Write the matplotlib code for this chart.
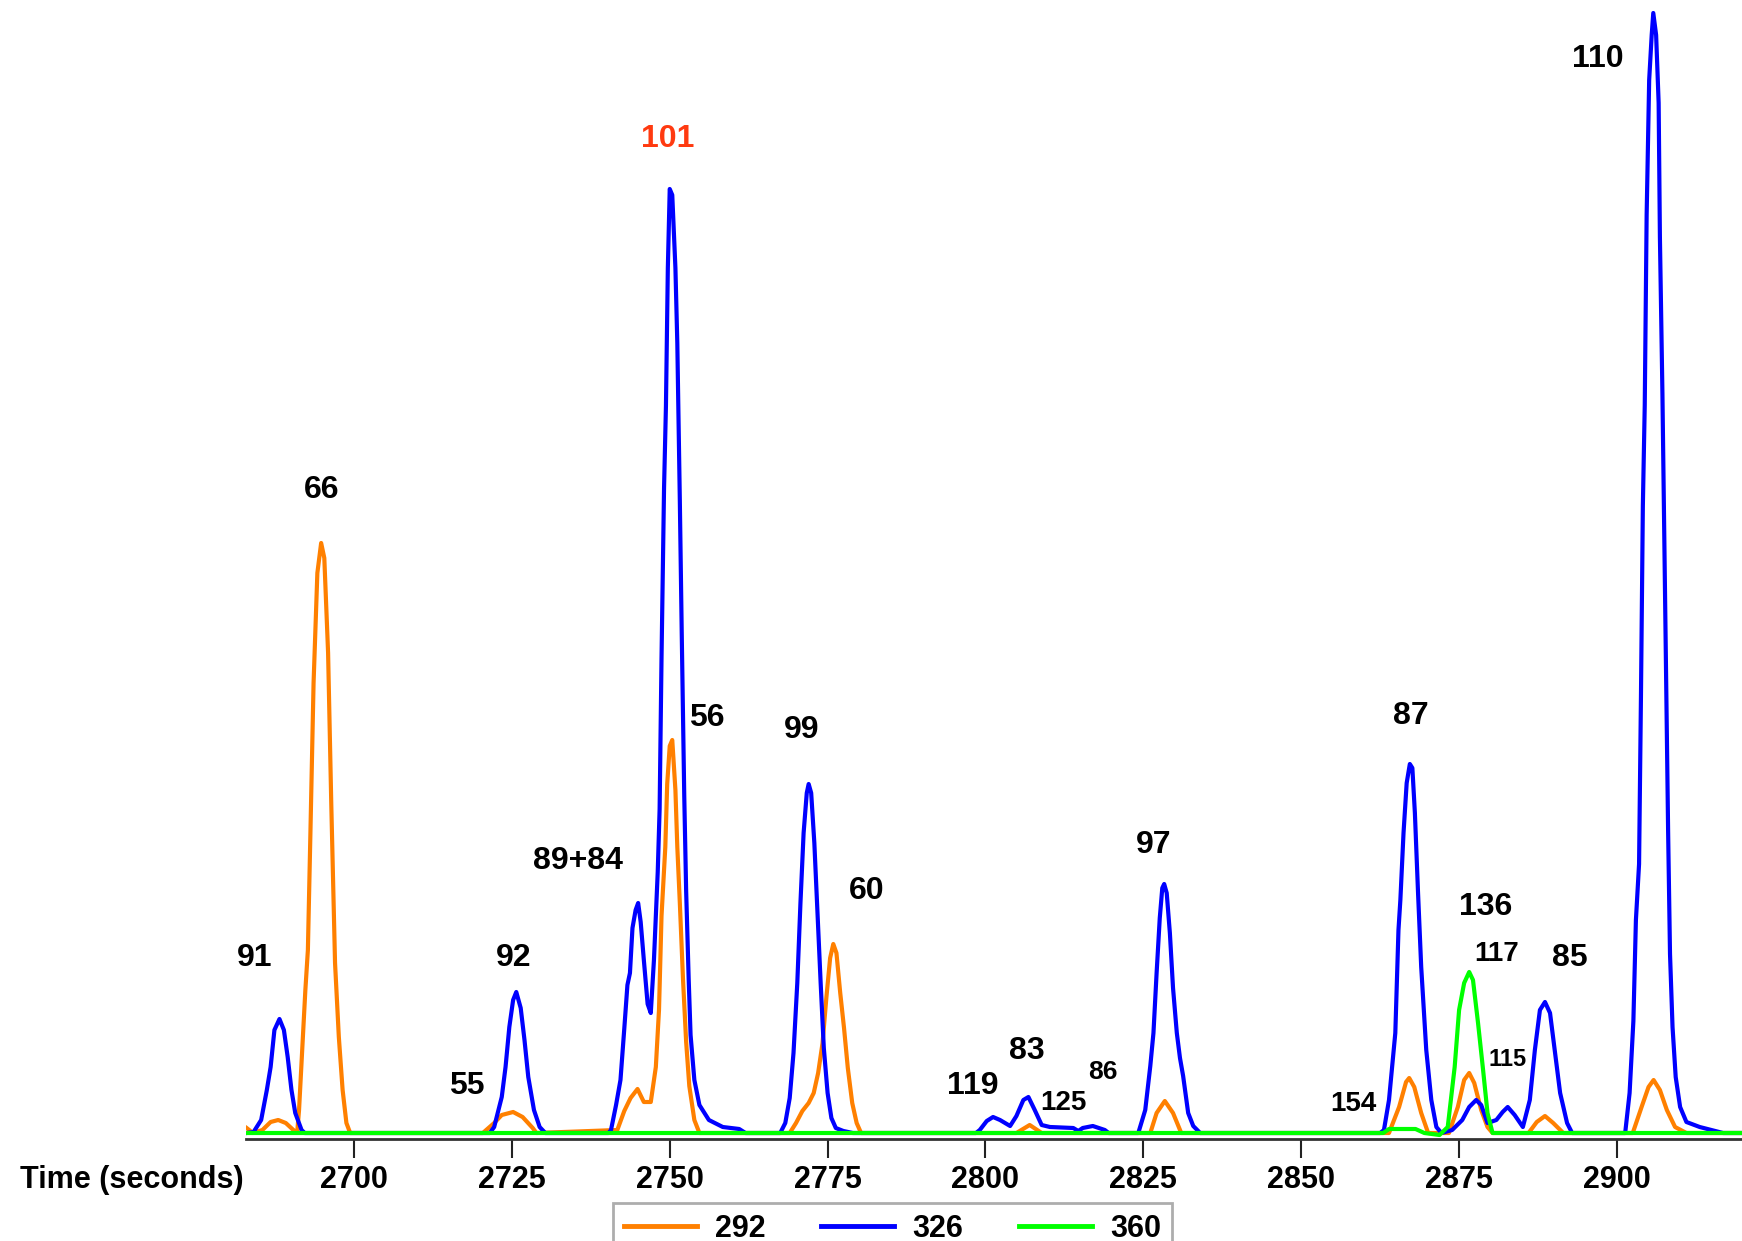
import matplotlib
matplotlib.use("Agg")
import matplotlib.pyplot as plt
from matplotlib import font_manager

# Chromatogram traces (time in s, signal in arbitrary units)
t_292 = [2683.0, 2684.0, 2685.5, 2686.8, 2688.0, 2689.2, 2690.4, 2691.0, 2691.3, 2691.8, 2692.3,
         2692.7, 2693.1, 2693.6, 2694.2, 2694.8, 2695.3, 2695.9, 2696.4, 2697.0, 2697.6, 2698.2,
         2698.8, 2699.4, 2720.4, 2722.2, 2723.4, 2725.2, 2726.7, 2728.3, 2728.9, 2741.7, 2742.8,
         2743.8, 2744.9, 2745.9, 2747.0, 2747.8, 2748.3, 2748.7, 2749.3, 2749.6, 2750.0, 2750.4,
         2750.9, 2751.2, 2751.6, 2752.1, 2752.6, 2753.1, 2753.9, 2754.7, 2769.0, 2770.0, 2771.0,
         2772.0, 2772.8, 2773.5, 2774.2, 2774.8, 2775.4, 2775.9, 2776.4, 2777.0, 2777.6, 2778.2,
         2778.9, 2779.6, 2780.3, 2804.9, 2807.0, 2808.9, 2826.1, 2827.1, 2828.4, 2829.7, 2831.0,
         2863.9, 2865.5, 2866.6, 2867.1, 2867.9, 2869.0, 2870.1, 2873.4, 2874.8, 2875.8, 2876.6,
         2877.4, 2878.5, 2879.5, 2880.3, 2886.0, 2887.3, 2888.6, 2889.9, 2891.5, 2902.5, 2903.9,
         2905.0, 2905.8, 2906.8, 2907.9, 2909.2, 2911.0, 2920.0]
y_292 = [5, 0, 3, 11, 13, 10, 3, 0, 23, 83, 143,
         183, 300, 450, 560, 590, 575, 480, 330, 170, 96, 43,
         10, 0, 0, 10, 18, 21, 16, 5, 0, 3, 22,
         35, 44, 31, 31, 66, 123, 217, 286, 349, 387, 393,
         343, 286, 230, 154, 91, 47, 13, 0, 0, 10, 22,
         30, 40, 60, 90, 135, 175, 189, 180, 140, 105, 65,
         30, 10, 0, 0, 8, 0, 0, 20, 32, 20, 0,
         0, 26, 51, 55, 46, 20, 0, 0, 26, 53, 60,
         50, 23, 6, 0, 0, 11, 17, 10, 0, 0, 26,
         46, 53, 43, 23, 6, 0, 0]

t_326 = [2683.0, 2684.1, 2685.3, 2686.2, 2686.8, 2687.4, 2688.2, 2688.9, 2689.5, 2690.1, 2690.7,
         2691.7, 2692.2, 2721.5, 2722.2, 2723.4, 2724.0, 2724.6, 2725.2, 2725.7, 2726.4, 2727.0,
         2727.6, 2728.5, 2729.4, 2730.3, 2740.3, 2740.7, 2741.5, 2742.2, 2742.8, 2743.3, 2743.7,
         2744.1, 2744.6, 2745.0, 2745.4, 2745.9, 2746.5, 2747.0, 2747.5, 2748.1, 2748.4, 2748.7,
         2749.1, 2749.4, 2749.7, 2750.0, 2750.4, 2750.9, 2751.2, 2751.6, 2751.9, 2752.3, 2752.6,
         2753.0, 2753.3, 2753.9, 2754.7, 2756.2, 2758.4, 2761.0, 2762.0, 2767.5, 2768.3, 2769.0,
         2769.6, 2770.2, 2770.7, 2771.2, 2771.7, 2772.0, 2772.4, 2772.9, 2773.4, 2773.9, 2774.4,
         2775.0, 2775.6, 2776.3, 2777.5, 2779.0, 2798.5, 2799.1, 2800.2, 2801.2, 2802.3, 2803.9,
         2804.9, 2806.0, 2806.8, 2807.8, 2808.9, 2810.2, 2813.9, 2814.7, 2815.4, 2817.0, 2818.9,
         2819.5, 2824.2, 2825.3, 2826.1, 2826.6, 2827.1, 2827.6, 2828.0, 2828.3, 2828.7, 2829.2,
         2829.7, 2830.3, 2830.8, 2831.3, 2832.1, 2832.9, 2834.0, 2862.5, 2863.1, 2863.9, 2864.9,
         2865.4, 2865.7, 2866.2, 2866.7, 2867.2, 2867.6, 2868.0, 2868.5, 2869.0, 2869.8, 2870.6,
         2871.4, 2872.2, 2873.9, 2875.5, 2876.6, 2877.7, 2878.5, 2879.5, 2880.9, 2881.9, 2882.7,
         2883.8, 2885.1, 2886.2, 2887.0, 2887.8, 2888.6, 2889.4, 2890.2, 2891.0, 2892.1, 2892.9,
         2901.3, 2902.0, 2902.6, 2903.0, 2903.5, 2903.8, 2904.1, 2904.4, 2904.7, 2905.1, 2905.5,
         2905.75, 2906.2, 2906.6, 2906.8, 2907.2, 2907.5, 2907.9, 2908.1, 2908.4, 2908.8, 2909.3,
         2910.0, 2911.0, 2913.1, 2916.8, 2920.0]
y_326 = [0, 1, 13, 43, 66, 103, 114, 103, 76, 43, 20,
         3, 0, 0, 6, 36, 66, 106, 133, 141, 125, 93,
         56, 23, 6, 0, 0, 3, 28, 53, 104, 148, 160,
         205, 223, 230, 211, 173, 129, 120, 173, 261, 324, 475,
         645, 727, 865, 944, 938, 865, 790, 632, 500, 337, 242,
         154, 98, 53, 28, 13, 6, 4, 0, 0, 10, 35,
         80, 150, 230, 300, 340, 349, 340, 290, 220, 150, 85,
         40, 15, 5, 2, 0, 0, 3, 12, 16, 13, 7,
         17, 33, 36, 23, 8, 6, 5, 2, 5, 7, 3,
         0, 0, 23, 67, 100, 160, 215, 245, 249, 240, 200,
         145, 100, 75, 57, 20, 7, 0, 0, 3, 33, 100,
         203, 233, 300, 350, 369, 365, 320, 240, 166, 83, 33,
         6, 0, 3, 13, 26, 33, 28, 10, 13, 21, 26,
         18, 6, 33, 83, 123, 131, 120, 80, 40, 10, 0,
         0, 40, 112, 213, 269, 437, 627, 728, 918, 1053, 1098,
         1120, 1098, 1030, 896, 739, 594, 403, 302, 179, 106, 56,
         26, 11, 6, 0, 0]

t_360 = [2683.0, 2863.0, 2863.9, 2868.1, 2869.5, 2871.9, 2873.2, 2874.3, 2875.0, 2875.8, 2876.6,
         2877.2, 2878.0, 2878.8, 2879.5, 2880.3, 2920.0]
y_360 = [0, 0, 4, 4, 0, -2, 6, 66, 123, 150, 161,
         153, 110, 63, 20, 0, 0]

# peak labels: text, time, height, font size
lbl_text = ["91", "66", "55", "92", "89+84", "101", "56", "99", "60", "119", "83", "125",
            "86", "97", "154", "87", "136", "117", "115", "85", "110"]
lbl_t = [2684.3, 2694.9, 2717.9, 2725.3, 2735.4, 2749.7, 2755.9, 2770.9, 2781.2, 2798.0,
         2806.6, 2812.4, 2818.6, 2826.7, 2858.2, 2867.4, 2879.2, 2881.0, 2882.7, 2892.5, 2897.0]
lbl_y = [175, 643, 47, 175, 272, 994, 415, 403, 242, 47, 82, 30, 61, 288, 29, 417, 226, 179,
         73, 175, 1074]
lbl_size = [23, 23, 23, 23, 23, 23, 23, 23, 23, 23, 23, 20, 19, 23, 20, 23, 23, 20, 17, 23, 23]

ticks = [2700, 2725, 2750, 2775, 2800, 2825, 2850, 2875, 2900]

names = [f.name for f in font_manager.fontManager.ttflist]
if "Liberation Sans Narrow" in names:
    axis_font = "Liberation Sans Narrow"
    axis_size = 27
else:
    axis_font = "Liberation Sans"
    axis_size = 22

fig = plt.figure(figsize=(17.42, 12.41), dpi=100)
ax = fig.add_axes([246 / 1742, (1241 - 1139) / 1241, (1742 - 246) / 1742, 1139 / 1241])

ax.plot(t_292, y_292, color="#ff8000", lw=3.0, label="292")
ax.plot(t_326, y_326, color="#0000ff", lw=3.0, label="326")
ax.plot(t_360, y_360, color="#00ff00", lw=3.0, label="360")

for txt, tx, ty, fs in zip(lbl_text, lbl_t, lbl_y, lbl_size):
    col = "#ff3a10" if txt == "101" else "black"
    ax.text(tx, ty, txt, ha="center", va="center", fontsize=fs, fontweight="bold",
            family="Liberation Sans", color=col)

ax.set_xlim(2682.9, 2919.8)
ax.set_ylim(-6, 1133)
ax.set_yticks([])
ax.set_xticks(ticks)
ax.set_xticklabels([str(t) for t in ticks], family=axis_font, fontsize=axis_size,
                   fontweight="bold")
ax.tick_params(axis="x", length=14, width=1.5, color="#222222", pad=5)
for s in ["top", "left", "right"]:
    ax.spines[s].set_visible(False)
ax.spines["bottom"].set_color("#333333")
ax.spines["bottom"].set_linewidth(2)

fig.text(244 / 1742, 1 - 1180 / 1241, "Time (seconds)", ha="right", va="center",
         family=axis_font, fontsize=axis_size, fontweight="bold")

leg = ax.legend(loc="upper left", bbox_to_anchor=(613 / 1742, 1 - 1203 / 1241),
                bbox_transform=fig.transFigure, ncol=3, frameon=True, fancybox=False,
                prop={"family": axis_font, "size": axis_size, "weight": "bold"},
                handlelength=2.4, handletextpad=0.6, columnspacing=1.8,
                borderpad=0.35, borderaxespad=0)
leg.get_frame().set_edgecolor("#999999")
leg.get_frame().set_linewidth(2)
for line in leg.get_lines():
    line.set_linewidth(3.5)

fig.savefig("out.png", dpi=100)
